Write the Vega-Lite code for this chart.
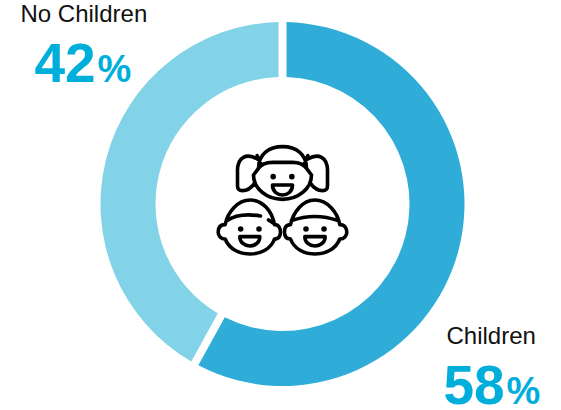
{
  "$schema": "https://vega.github.io/schema/vega-lite/v6.json",
  "width": 557,
  "height": 408,
  "autosize": "none",
  "padding": {"left": 4, "top": 0, "right": 0, "bottom": 2},
  "background": "white",
  "config": {"view": {"stroke": null}},
  "data": {
    "values": [
      {"segment": "Children", "share": 58, "rank": 1},
      {"segment": "No Children", "share": 42, "rank": 2}
    ]
  },
  "layer": [
    {
      "mark": {"type": "arc", "innerRadius": 127, "outerRadius": 182, "padAngle": 0.036},
      "encoding": {
        "theta": {"field": "share", "type": "quantitative", "stack": true},
        "order": {"field": "rank", "type": "ordinal"},
        "color": {
          "field": "segment",
          "type": "nominal",
          "scale": {"domain": ["Children", "No Children"], "range": ["#2fadd8", "#82d3e8"]},
          "legend": null
        }
      }
    },
    {
      "data": {"values": [{"icon": "children"}]},
      "mark": {
        "type": "point",
        "filled": false,
        "stroke": "#000000",
        "strokeWidth": 3.6,
        "strokeCap": "round",
        "strokeJoin": "round",
        "opacity": 1,
        "size": 0.4444,
        "shape": "M-87,-87 A87,73 0 0 0 87,-87 M-87,-87 L-72,-107 C-72,-150 -40,-172 0,-172 C40,-172 72,-150 72,-107 L87,-87 M-72,-107 Q-60,-125 -30,-125 L30,-125 Q60,-125 72,-107 M-76,-135 C-105,-152 -137,-145 -135,-95 L-135,-55 Q-135,-40 -120,-40 Q-100,-40 -84,-62 M76,-135 C105,-152 137,-145 135,-95 L135,-55 Q135,-40 120,-40 Q100,-40 84,-62 M-76,-145 L-64,-118 M76,-145 L64,-118 M-28,-85 a3,3 0 1 0 0.01,0 M28,-85 a3,3 0 1 0 0.01,0 M-30,-57 L30,-57 C30,-37 15,-27 0,-27 C-15,-27 -30,-37 -30,-57 Z M-172,62 C-165,25 -135,-12 -97,-12 C-60,-12 -32,20 -24,62 M-172,62 C-192,62 -193,78 -193,85 C-193,95 -185,105 -172,105 C-160,135 -130,150 -97,150 C-65,150 -35,135 -24,105 C-10,105 -6,95 -6,85 C-6,75 -10,62 -24,62 M-167,50 Q-130,25 -66,36 M-42,48 L-27,58 M-125.5,72 a3,3 0 1 0 0.01,0 M-70.5,72 a3,3 0 1 0 0.01,0 M-128,98 L-68,98 C-68,115 -82,126 -98,126 C-114,126 -128,115 -128,98 Z M24,62 C32,25 60,-12 97,-12 C135,-12 165,25 172,62 M24,62 C8,62 6,75 6,85 C6,95 10,105 24,105 C35,135 65,150 97,150 C130,150 160,135 172,105 C185,105 193,95 193,85 C193,78 190,62 172,62 M27,50 Q97,25 167,50 M70.5,72 a3,3 0 1 0 0.01,0 M124.5,72 a3,3 0 1 0 0.01,0 M67,98 L128,98 C128,115 114,126 97,126 C81,126 67,115 67,98 Z"
      },
      "encoding": {}
    },
    {
      "transform": [{"filter": "datum.segment === 'No Children'"}],
      "mark": {"type": "text", "align": "left", "baseline": "alphabetic", "font": "Liberation Sans", "fontSize": 24, "color": "#111111", "dx": -262, "dy": -182},
      "encoding": {"text": {"field": "segment"}}
    },
    {
      "transform": [{"filter": "datum.segment === 'No Children'"}],
      "mark": {"type": "text", "align": "left", "baseline": "alphabetic", "font": "Liberation Sans", "fontWeight": "bold", "fontSize": 55, "color": "#00aedb", "dx": -248, "dy": -122},
      "encoding": {"text": {"field": "share"}}
    },
    {
      "transform": [{"filter": "datum.segment === 'No Children'"}],
      "mark": {"type": "text", "align": "left", "baseline": "alphabetic", "font": "Liberation Sans", "fontWeight": "bold", "fontSize": 38, "color": "#00aedb", "dx": -185, "dy": -122, "text": "%"},
      "encoding": {}
    },
    {
      "transform": [{"filter": "datum.segment === 'Children'"}],
      "mark": {"type": "text", "align": "left", "baseline": "alphabetic", "font": "Liberation Sans", "fontSize": 24, "color": "#111111", "dx": 164, "dy": 140},
      "encoding": {"text": {"field": "segment"}}
    },
    {
      "transform": [{"filter": "datum.segment === 'Children'"}],
      "mark": {"type": "text", "align": "left", "baseline": "alphabetic", "font": "Liberation Sans", "fontWeight": "bold", "fontSize": 55, "color": "#00aedb", "dx": 161, "dy": 200},
      "encoding": {"text": {"field": "share"}}
    },
    {
      "transform": [{"filter": "datum.segment === 'Children'"}],
      "mark": {"type": "text", "align": "left", "baseline": "alphabetic", "font": "Liberation Sans", "fontWeight": "bold", "fontSize": 38, "color": "#00aedb", "dx": 224, "dy": 200, "text": "%"},
      "encoding": {}
    }
  ]
}
